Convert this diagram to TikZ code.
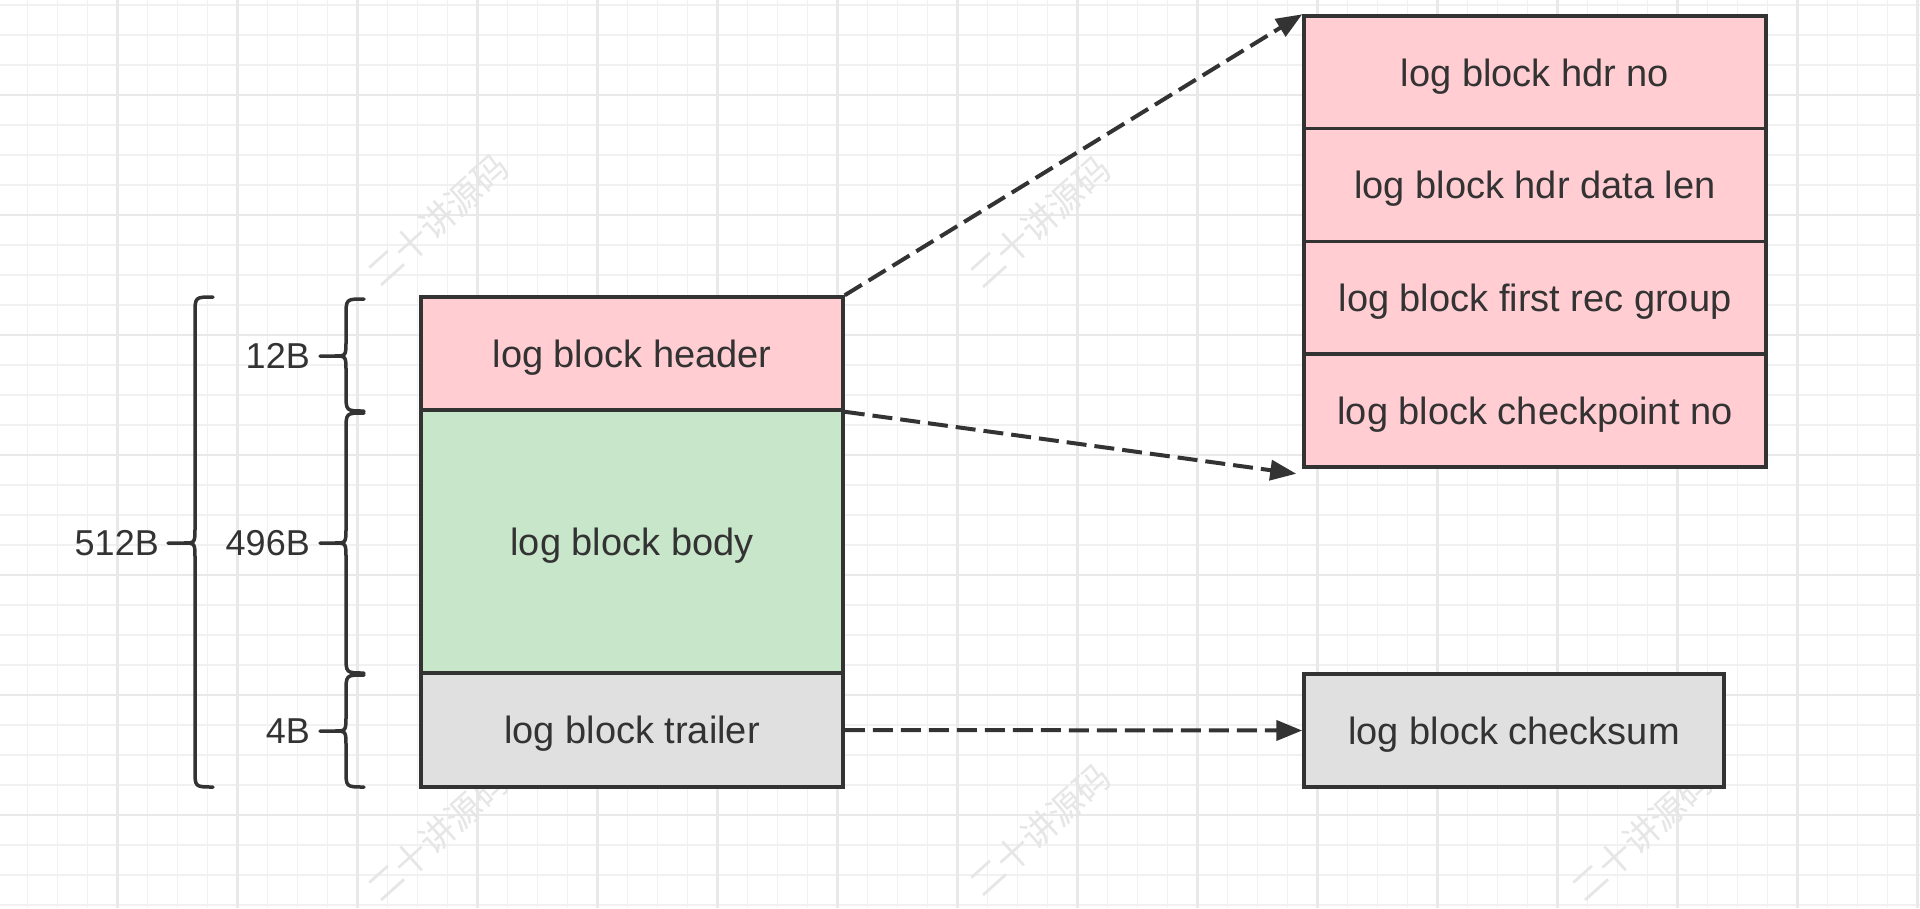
\documentclass[tikz,border=0pt]{standalone}
\usepackage{fontspec}
\setmainfont{Liberation Sans}
\newfontfamily\cjkfont{Noto Sans CJK SC}
\usetikzlibrary{arrows.meta,calc}
\definecolor{pinkf}{HTML}{FFCDD2}
\definecolor{greenf}{HTML}{C8E6C9}
\definecolor{grayf}{HTML}{E0E0E0}
\definecolor{ink}{HTML}{333333}
\definecolor{gridmin}{HTML}{F1F1F1}
\definecolor{gridmaj}{HTML}{E9E9E9}
\definecolor{wmark}{HTML}{E6E6E6}
\tikzset{
  blk/.style={draw=ink, line width=3.5pt, minimum width=422pt, inner sep=0pt,
    text=ink, font=\fontsize{38}{45}\selectfont, align=center, text depth=0pt},
  lbl/.style={text=ink, font=\fontsize{36}{43}\selectfont, inner sep=0pt, anchor=east},
  link/.style={draw=ink, line width=4pt, dash pattern=on 20pt off 8pt,
    -{Triangle[length=26pt,width=20pt]}},
  bracepath/.style={draw=ink, line width=3.5pt, line cap=round, line join=round},
  wm/.style={text=wmark, font=\cjkfont\fontsize{35}{40}\selectfont, rotate=42, inner sep=0pt},
  gmin/.style={draw=gridmin, line width=1.3pt},
  gmaj/.style={draw=gridmaj, line width=2.2pt}
}
% ex, sx, tx, y1, y2, ty
\newcommand\curlybr[6]{%
  \draw[bracepath] (#1,#4) .. controls (#2,#4) .. (#2,#4+17) -- (#2,#6-15)
    .. controls (#2,#6) .. (#2-12,#6) -- (#3,#6) -- (#2-12,#6)
    .. controls (#2,#6) .. (#2,#6+15) -- (#2,#5-17)
    .. controls (#2,#5) .. (#1,#5);}
\begin{document}
\begin{tikzpicture}[x=1pt,y=-1pt]
\useasboundingbox (0,0) rectangle (1920,908);
\fill[white] (0,0) rectangle (1920,908);
% grid
\foreach \i in {0,...,63} \draw[gmin] ({27.5+30*\i},0) -- ({27.5+30*\i},908);
\foreach \i in {0,...,30} \draw[gmin] (0,{5+30*\i}) -- (1920,{5+30*\i});
\foreach \i in {0,...,15} \draw[gmaj] ({117.5+120*\i},0) -- ({117.5+120*\i},908);
\foreach \i in {0,...,6} \draw[gmaj] (0,{95+120*\i}) -- (1920,{95+120*\i});
% watermarks
\node[wm] (w1) at (438,220) {二十讲源码};
\node[wm] (w2) at (1040,222) {二十讲源码};
\node[wm] (w3) at (438,835) {二十讲源码};
\node[wm] (w4) at (1040,830) {二十讲源码};
\node[wm] (w5) at (1642,835) {二十讲源码};
% main block
\node[blk, fill=pinkf, minimum height=113pt] (hdr) at (632,353.5) {log block header};
\node[blk, fill=greenf, minimum height=263pt] (body) at (632,541.5) {log block body};
\node[blk, fill=grayf, minimum height=114pt] (trl) at (632,730) {log block trailer};
% header detail
\node[blk, fill=pinkf, minimum width=462pt, minimum height=112.75pt] (r1) at (1535,72.4) {log block hdr no};
\node[blk, fill=pinkf, minimum width=462pt, minimum height=112.75pt] (r2) at (1535,185.1) {log block hdr data len};
\node[blk, fill=pinkf, minimum width=462pt, minimum height=112.75pt] (r3) at (1535,297.9) {log block first rec group};
\node[blk, fill=pinkf, minimum width=462pt, minimum height=112.75pt] (r4) at (1535,410.6) {log block checkpoint no};
% trailer detail
\node[blk, fill=grayf, minimum width=420pt, minimum height=113pt] (cks) at (1514,730.5) {log block checksum};
% braces
\curlybr{364}{346}{320}{299}{411}{356}
\curlybr{364}{346}{320}{413}{673}{543}
\curlybr{364}{346}{320}{675}{787}{731}
\curlybr{213}{195}{168}{297}{787}{543}
% labels
\node[lbl] (l12) at (310,356) {12B};
\node[lbl] (l496) at (310,543) {496B};
\node[lbl] (l4) at (310,731) {4B};
\node[lbl] (l512) at (159,543) {512B};
% connectors
\coordinate (a2) at ($(r4.south west)+(-6,5)$);
\draw[link] (hdr.north east) -- (r1.north west);
\draw[link] (hdr.south east) -- (a2);
\draw[link] (trl.east) -- (cks.west);
\end{tikzpicture}
\end{document}
